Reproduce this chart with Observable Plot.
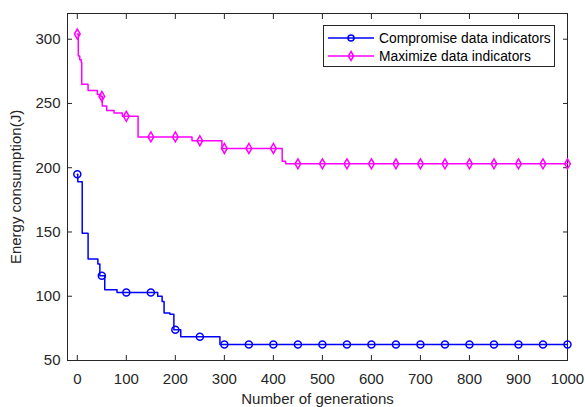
<!DOCTYPE html>
<html><head><meta charset="utf-8">
<script src="https://cdn.jsdelivr.net/npm/d3@7"></script>
<script src="https://cdn.jsdelivr.net/npm/@observablehq/plot@0.6"></script>
<style>
body{margin:0;background:#fff;font-family:"Liberation Sans",Arial,sans-serif;}
#wrap{position:relative;width:585px;height:407px;}
#legend{position:absolute;left:323px;top:25px;width:230px;height:40px;border:1px solid #262626;background:#fff;font-size:13.8px;color:#000;}
.row{position:absolute;left:0;height:18px;display:flex;align-items:center;white-space:nowrap;}
.row svg{margin-left:4px;margin-right:5px;}
.xl text, .yl text{font-size:16px;}
</style></head><body><div id="wrap"></div><script>
// Step series (generation where value starts, value)
const compGen = [0, 1, 10, 22, 42, 46, 56, 81, 164, 173, 177, 189, 197, 211, 291, 1000];
const compVal = [195, 189, 149, 129, 125, 116, 105, 103, 100, 96, 87, 86, 74, 68.5, 62.5, 62.5];
const maxGen = [0, 2, 5, 8, 9, 22, 41, 48, 51, 60, 75, 92, 124, 234, 295, 418, 425, 1000];
const maxVal = [304, 287, 284, 282, 265, 260, 257, 255.5, 248, 244.5, 242.5, 240, 224, 221, 215, 205, 203, 203];
// Marker positions
const markerGen = [0,50,100,150,200,250,300,350,400,450,500,550,600,650,700,750,800,850,900,950,1000];
const compMarkers = [195,116,103,103,74,68.5,62.5,62.5,62.5,62.5,62.5,62.5,62.5,62.5,62.5,62.5,62.5,62.5,62.5,62.5,62.5];
const maxMarkers = [304,255.5,240,224,224,221,215,215,215,203,203,203,203,203,203,203,203,203,203,203,203];
// Ticks & labels
const xTicks = [0,100,200,300,400,500,600,700,800,900,1000];
const yTicks = [50,100,150,200,250,300];
const xLabel = "Number of generations";
const yLabel = "Energy consumption(J)";
const seriesNames = ["Compromise data indicators", "Maximize data indicators"];
const seriesColors = ["#0000ff", "#ff00ff"];
const seriesSymbols = ["circle", "diamond"];

const comp = compGen.map((g, i) => ({g, v: compVal[i]}));
const maxi = maxGen.map((g, i) => ({g, v: maxVal[i]}));
const compM = markerGen.map((g, i) => ({g, v: compMarkers[i]}));
const maxM = markerGen.map((g, i) => ({g, v: maxMarkers[i]}));

const ink = "#262626";
const fmt = d => String(d);
const chart = Plot.plot({
  width: 585, height: 407,
  marginLeft: 67, marginRight: 18, marginTop: 13, marginBottom: 47,
  style: {fontFamily: '"Liberation Sans", Arial, sans-serif', fontSize: "15px", color: ink, background: "white"},
  x: {domain: [-20, 1000]},
  y: {domain: [50, 320]},
  marks: [
    Plot.frame({stroke: ink}),
    Plot.axisX({ticks: xTicks, tickFormat: fmt, anchor: "bottom", tickSize: -5, tickPadding: 18, label: null}),
    Plot.axisX({ticks: [], anchor: "bottom", tickSize: 0, label: xLabel, labelAnchor: "center", labelArrow: "none", labelOffset: 43, className: "xl"}),
    Plot.axisX({ticks: xTicks, anchor: "top", tickSize: -5, fill: "none", label: null}),
    Plot.axisY({ticks: yTicks, tickFormat: fmt, anchor: "left", tickSize: -5, tickPadding: 12, label: null}),
    Plot.axisY({ticks: [], anchor: "left", tickSize: 0, label: yLabel, labelAnchor: "center", labelArrow: "none", labelOffset: 57, className: "yl"}),
    Plot.axisY({ticks: yTicks, anchor: "right", tickSize: -5, fill: "none", label: null}),
    Plot.line(maxi, {x: "g", y: "v", curve: "step-after", stroke: seriesColors[1], strokeWidth: 1.5}),
    Plot.dot(maxM, {x: "g", y: "v", symbol: seriesSymbols[1], r: 3, stroke: seriesColors[1], strokeWidth: 1.5, fill: "none"}),
    Plot.line(comp, {x: "g", y: "v", curve: "step-after", stroke: seriesColors[0], strokeWidth: 1.5}),
    Plot.dot(compM, {x: "g", y: "v", symbol: seriesSymbols[0], r: 3.5, stroke: seriesColors[0], strokeWidth: 1.5, fill: "none"})
  ]
});
const wrap = document.getElementById("wrap");
wrap.appendChild(chart);

// Legend
const legend = document.createElement("div");
legend.id = "legend";
seriesNames.forEach((name, i) => {
  const row = document.createElement("div");
  row.className = "row";
  row.style.top = (3 + i * 18) + "px";
  const shape = i === 0
    ? `<circle cx="23" cy="9" r="3" fill="none" stroke="${seriesColors[i]}" stroke-width="1.5"/>`
    : `<path d="M23,4.5L25.6,9L23,13.5L20.4,9Z" fill="none" stroke="${seriesColors[i]}" stroke-width="1.5"/>`;
  row.innerHTML = `<svg width="46" height="18"><line x1="0" y1="9" x2="46" y2="9" stroke="${seriesColors[i]}" stroke-width="1.5"/>${shape}</svg><span>${name}</span>`;
  legend.appendChild(row);
});
wrap.appendChild(legend);
</script></body></html>
